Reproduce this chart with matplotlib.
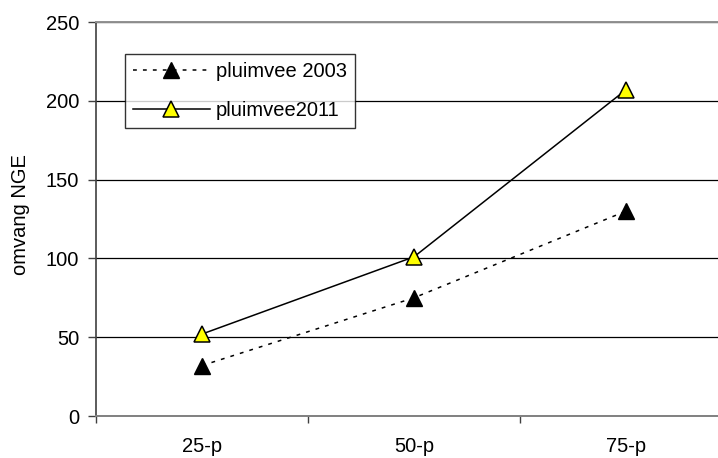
import matplotlib
matplotlib.use("Agg")
import matplotlib.pyplot as plt

plt.rcParams['font.family'] = ['Liberation Sans', 'DejaVu Sans']

categories = ["25-p", "50-p", "75-p"]
pluimvee_2003 = [32, 75, 130]
pluimvee_2011 = [52, 101, 207]
y_ticks = [0, 50, 100, 150, 200, 250]

FS = 14.5
W, H = 718, 458
fig = plt.figure(figsize=(W / 100, H / 100), dpi=100)
left, right, top, bottom = 96, 732, 22, 416
ax = fig.add_axes([left / W, 1 - bottom / H, (right - left) / W, (bottom - top) / H])

x = list(range(len(categories)))
ax.plot(x, pluimvee_2003, linestyle=(0, (2.5, 4)), color="black", lw=1.1,
        marker="^", ms=11, mfc="black", mec="black", label="pluimvee 2003")
ax.plot(x, pluimvee_2011, linestyle="-", color="black", lw=1.1,
        marker="^", ms=11, mfc="#ffff00", mec="black", mew=1.1, label="pluimvee2011")

ax.set_xlim(-0.5, len(categories) - 0.5)
ax.set_ylim(0, 250)
ax.set_yticks(y_ticks)
ax.set_yticklabels([str(v) for v in y_ticks], fontsize=FS)
ax.yaxis.grid(True, color="black", lw=0.9)
ax.set_axisbelow(True)

ax.set_xticks(x)
ax.set_xticklabels(categories, fontsize=FS)
ax.set_xticks([i + 0.5 for i in range(-1, len(categories))], minor=True)
ax.tick_params(axis="x", which="major", length=0, pad=15)
ax.tick_params(axis="x", which="minor", length=5, width=1, color="#404040", direction="out")
ax.tick_params(axis="y", length=6, width=1, color="#404040", direction="out", pad=6)

ax.spines["left"].set_color("#404040")
ax.spines["left"].set_linewidth(1.2)
ax.spines["bottom"].set_color("#808080")
ax.spines["bottom"].set_linewidth(1.4)
ax.spines["top"].set_color("#909090")
ax.spines["top"].set_linewidth(1.4)
ax.spines["right"].set_visible(False)

ax.set_ylabel("omvang NGE", fontsize=FS)
ax.yaxis.set_label_coords((30 - left) / (right - left), 0.51)

leg = ax.legend(loc="upper left",
                bbox_to_anchor=((125 - left) / (right - left), 1 - (54 - top) / (bottom - top)),
                fontsize=FS, handlelength=3.8, frameon=True, fancybox=False,
                edgecolor="black", borderpad=0.4, labelspacing=1.0, handletextpad=0.3,
                borderaxespad=0)
leg.get_frame().set_linewidth(1.0)

fig.savefig("out.png", dpi=100, facecolor="white")
